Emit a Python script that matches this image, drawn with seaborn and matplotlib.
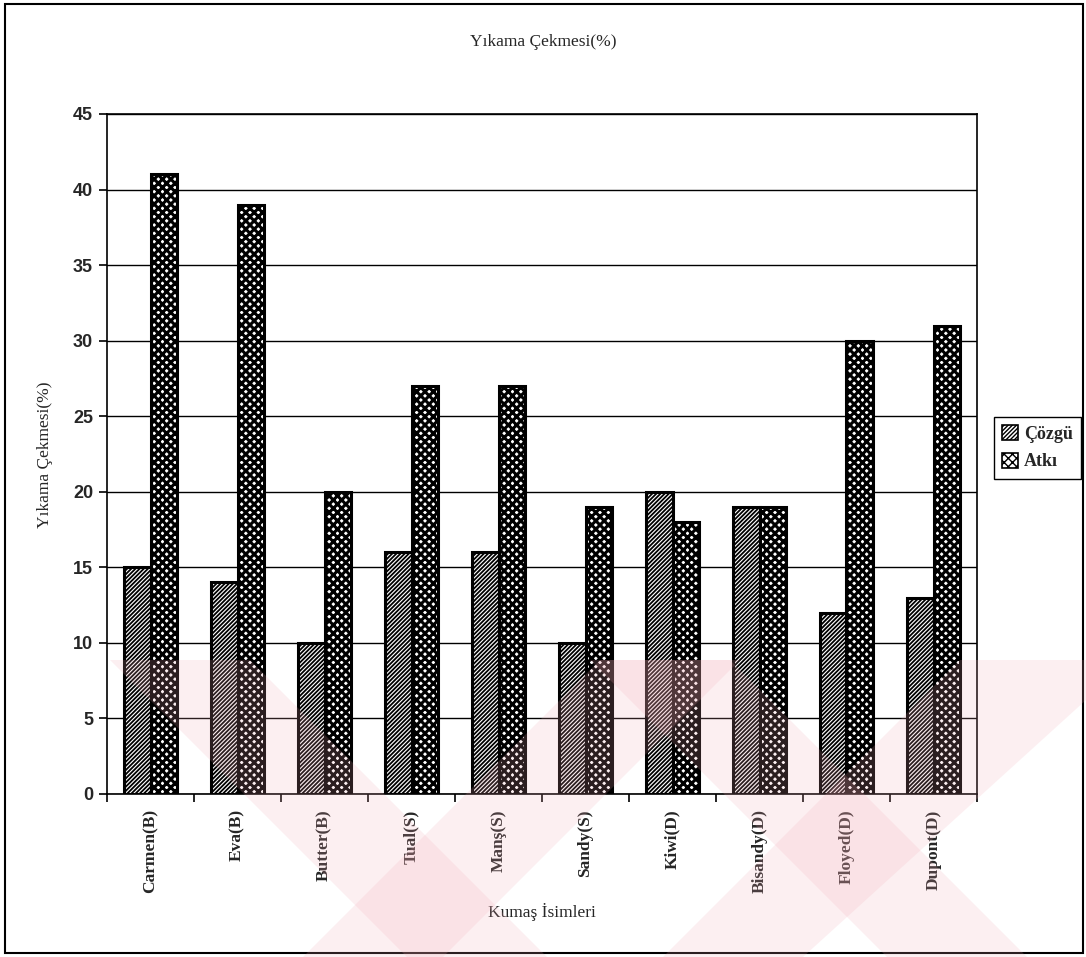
import numpy as np
import pandas as pd
import matplotlib
matplotlib.use("Agg")
import matplotlib.pyplot as plt
from matplotlib.patches import Rectangle, Polygon
import seaborn as sns

# Fabric names and shrinkage values (%)
fabrics = ["Carmen(B)", "Eva(B)", "Butter(B)", "Tual(S)", "Manş(S)",
           "Sandy(S)", "Kiwi(D)", "Bisandy(D)", "Floyed(D)", "Dupont(D)"]
cozgu = [15, 14, 10, 16, 16, 10, 20, 19, 12, 13]
atki = [41, 39, 20, 27, 27, 19, 18, 19, 30, 31]
series = ["Çözgü", "Atkı"]
yticks = [0, 5, 10, 15, 20, 25, 30, 35, 40, 45]

df = pd.DataFrame({
    "Kumaş": fabrics * 2,
    "Seri": [series[0]] * len(fabrics) + [series[1]] * len(fabrics),
    "Değer": cozgu + atki,
})

sns.set_theme(style="white")
plt.rcParams["font.family"] = ["Liberation Serif", "DejaVu Serif"]
plt.rcParams["hatch.color"] = "black"

W, H = 1086, 957
fig = plt.figure(figsize=(W / 100, H / 100), dpi=100)
fig.patch.set_facecolor("white")


def fx(px):
    return px / W


def fy(py):
    return 1 - py / H


# faint pink background emblem in the lower part of the page
bands = [
    [(110, 660), (250, 660), (547, 957), (407, 957)],
    [(600, 660), (740, 660), (443, 957), (303, 957)],
    [(590, 660), (730, 660), (1027, 957), (887, 957)],
    [(960, 660), (1086, 660), (1086, 700), (803, 957), (663, 957)],
]
for b in bands:
    fig.patches.append(Polygon([(fx(x), fy(y)) for x, y in b],
                               closed=True, transform=fig.transFigure,
                               facecolor="#f3a9b4", edgecolor="none",
                               alpha=0.18, zorder=20))

ax = fig.add_axes([fx(107), fy(794), fx(977) - fx(107), fy(114) - fy(794)])

sns.barplot(data=df, x="Kumaş", y="Değer", hue="Seri", order=fabrics,
            hue_order=series, palette=["white", "white"], width=0.62,
            edgecolor="black", linewidth=2.2, saturation=1, ax=ax,
            legend=False, errorbar=None, zorder=3)

hatches = ["////////", "xxxx"]
hatch_lw = [1.3, 2.2]
for cont, h, lw in zip(ax.containers, hatches, hatch_lw):
    for p in cont:
        p.set_hatch(h)
        p.set_hatch_linewidth(lw)

ax.set_ylim(0, 45)
ax.set_xlim(-0.5, len(fabrics) - 0.5)
ax.set_yticks(yticks)
ax.set_yticklabels([str(v) for v in yticks],
                   fontdict={"family": "Liberation Sans", "weight": "bold",
                             "size": 13})
ax.yaxis.grid(True, color="black", linewidth=1.0, zorder=0)
ax.set_axisbelow(True)

# category labels centred, tick marks at group boundaries
ax.set_xticks(np.arange(len(fabrics)))
ax.set_xticklabels(fabrics, rotation=90, fontsize=12.5, fontweight="bold")
ax.set_xticks(np.arange(len(fabrics) + 1) - 0.5, minor=True)
ax.tick_params(axis="x", which="major", length=0, pad=11)
ax.tick_params(axis="x", which="minor", length=6, width=1.2, color="black",
               direction="out", bottom=True)
ax.tick_params(axis="y", length=6, width=1.2, color="black", direction="out",
               left=True, pad=4)

for s in ax.spines.values():
    s.set_color("black")
    s.set_linewidth(1.2)
    s.set_visible(True)

ax.set_xlabel("")
ax.set_ylabel("")
fig.text(fx(542), fy(912), "Kumaş İsimleri", ha="center", va="center",
         fontsize=12.5)
fig.text(fx(45), fy(455), "Yıkama Çekmesi(%)", ha="center", va="center",
         rotation=90, fontsize=12.5)
fig.text(fx(543), fy(42), "Yıkama Çekmesi(%)", ha="center", va="center",
         fontsize=12.5)

# legend
handles = [Rectangle((0, 0), 1, 1, facecolor="white", edgecolor="black",
                     hatch=h, linewidth=1.2) for h in hatches]
leg = fig.legend(handles, series, loc="upper left",
                 bbox_to_anchor=(fx(994), fy(417)), frameon=True,
                 fancybox=False, edgecolor="black", framealpha=1,
                 handlelength=0.9, handleheight=0.9, handletextpad=0.3,
                 borderpad=0.45, labelspacing=0.55, borderaxespad=0,
                 prop={"family": "Liberation Serif", "weight": "bold",
                       "size": 13})
leg.get_frame().set_linewidth(1.0)
leg.set_zorder(5)

# page frame around the chart
fig.patches.append(Rectangle((fx(5), fy(953)), fx(1083) - fx(5),
                             fy(4) - fy(953), transform=fig.transFigure,
                             fill=False, edgecolor="black", linewidth=1.5,
                             zorder=10))

fig.savefig("out.png", dpi=100, facecolor="white")
